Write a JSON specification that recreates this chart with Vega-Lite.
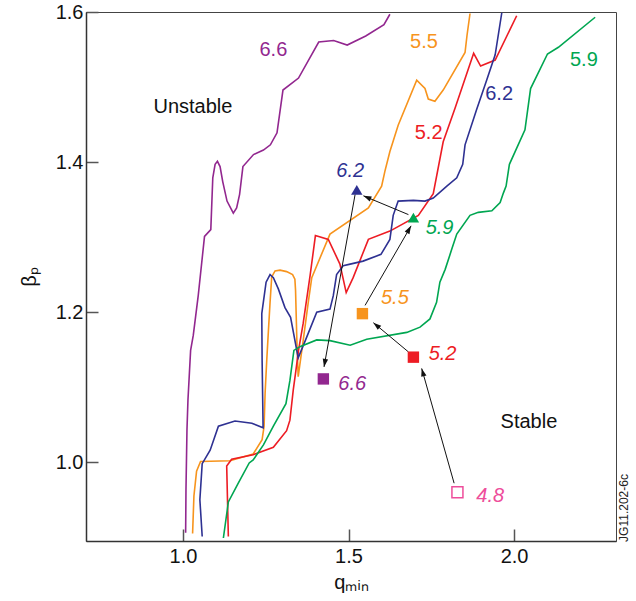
{
  "$schema": "https://vega.github.io/schema/vega-lite/v6.json",
  "width": 530,
  "height": 529,
  "autosize": {"type": "none"},
  "padding": {"left": 86, "top": 12, "right": 20, "bottom": 60},
  "background": "white",
  "config": {
    "font": "Liberation Sans",
    "view": {"stroke": "#444", "strokeWidth": 1},
    "axis": {
      "labelFont": "Liberation Sans",
      "labelFontSize": 20,
      "labelColor": "#111",
      "titleFont": "Liberation Sans",
      "titleFontSize": 20,
      "titleFontWeight": "normal",
      "titleColor": "#111",
      "domainColor": "#333",
      "domainWidth": 1.5,
      "tickColor": "#555",
      "tickWidth": 1.5,
      "tickSize": -12,
      "grid": false
    }
  },
  "datasets": {
    "curves": [
      {"s":"6.6","i":1,"q":1.008,"b":0.906},{"s":"6.6","i":2,"q":1.009,"b":0.963},{"s":"6.6","i":3,"q":1.012,"b":1.043},{"s":"6.6","i":4,"q":1.015,"b":1.083},{"s":"6.6","i":5,"q":1.023,"b":1.149},{"s":"6.6","i":6,"q":1.031,"b":1.169},{"s":"6.6","i":7,"q":1.046,"b":1.222},{"s":"6.6","i":8,"q":1.065,"b":1.301},{"s":"6.6","i":9,"q":1.084,"b":1.310},{"s":"6.6","i":10,"q":1.090,"b":1.379},{"s":"6.6","i":11,"q":1.097,"b":1.397},{"s":"6.6","i":12,"q":1.104,"b":1.401},{"s":"6.6","i":13,"q":1.112,"b":1.394},{"s":"6.6","i":14,"q":1.120,"b":1.374},{"s":"6.6","i":15,"q":1.133,"b":1.348},{"s":"6.6","i":16,"q":1.152,"b":1.332},{"s":"6.6","i":17,"q":1.162,"b":1.339},{"s":"6.6","i":18,"q":1.171,"b":1.357},{"s":"6.6","i":19,"q":1.181,"b":1.394},{"s":"6.6","i":20,"q":1.213,"b":1.410},{"s":"6.6","i":21,"q":1.243,"b":1.416},{"s":"6.6","i":22,"q":1.264,"b":1.423},{"s":"6.6","i":23,"q":1.284,"b":1.439},{"s":"6.6","i":24,"q":1.302,"b":1.496},{"s":"6.6","i":25,"q":1.349,"b":1.512},{"s":"6.6","i":26,"q":1.410,"b":1.560},{"s":"6.6","i":27,"q":1.455,"b":1.562},{"s":"6.6","i":28,"q":1.496,"b":1.556},{"s":"6.6","i":29,"q":1.552,"b":1.568},{"s":"6.6","i":30,"q":1.607,"b":1.583},{"s":"6.6","i":31,"q":1.625,"b":1.597},

      {"s":"5.5","i":1,"q":1.029,"b":0.905},{"s":"5.5","i":2,"q":1.033,"b":0.955},{"s":"5.5","i":3,"q":1.041,"b":0.988},{"s":"5.5","i":4,"q":1.053,"b":1.001},{"s":"5.5","i":5,"q":1.142,"b":1.002},{"s":"5.5","i":6,"q":1.212,"b":1.011},{"s":"5.5","i":7,"q":1.239,"b":1.030},{"s":"5.5","i":8,"q":1.245,"b":1.048},{"s":"5.5","i":9,"q":1.248,"b":1.092},{"s":"5.5","i":10,"q":1.253,"b":1.136},{"s":"5.5","i":11,"q":1.258,"b":1.175},{"s":"5.5","i":12,"q":1.263,"b":1.213},{"s":"5.5","i":13,"q":1.268,"b":1.247},{"s":"5.5","i":14,"q":1.278,"b":1.255},{"s":"5.5","i":15,"q":1.293,"b":1.256},{"s":"5.5","i":16,"q":1.313,"b":1.254},{"s":"5.5","i":17,"q":1.331,"b":1.250},{"s":"5.5","i":18,"q":1.338,"b":1.244},{"s":"5.5","i":19,"q":1.340,"b":1.229},{"s":"5.5","i":20,"q":1.344,"b":1.162},{"s":"5.5","i":21,"q":1.348,"b":1.114},{"s":"5.5","i":22,"q":1.363,"b":1.162},{"s":"5.5","i":23,"q":1.379,"b":1.215},{"s":"5.5","i":24,"q":1.389,"b":1.246},{"s":"5.5","i":25,"q":1.444,"b":1.304},{"s":"5.5","i":26,"q":1.560,"b":1.339},{"s":"5.5","i":27,"q":1.600,"b":1.368},{"s":"5.5","i":28,"q":1.610,"b":1.388},{"s":"5.5","i":29,"q":1.625,"b":1.414},{"s":"5.5","i":30,"q":1.650,"b":1.449},{"s":"5.5","i":31,"q":1.706,"b":1.509},{"s":"5.5","i":32,"q":1.731,"b":1.498},{"s":"5.5","i":33,"q":1.741,"b":1.484},{"s":"5.5","i":34,"q":1.761,"b":1.481},{"s":"5.5","i":35,"q":1.776,"b":1.490},{"s":"5.5","i":36,"q":1.786,"b":1.496},{"s":"5.5","i":37,"q":1.852,"b":1.546},{"s":"5.5","i":38,"q":1.858,"b":1.569},{"s":"5.5","i":39,"q":1.867,"b":1.598},

      {"s":"5.2","i":1,"q":1.137,"b":0.901},{"s":"5.2","i":2,"q":1.132,"b":0.995},{"s":"5.2","i":3,"q":1.147,"b":1.004},{"s":"5.2","i":4,"q":1.212,"b":1.010},{"s":"5.2","i":5,"q":1.273,"b":1.020},{"s":"5.2","i":6,"q":1.313,"b":1.042},{"s":"5.2","i":7,"q":1.323,"b":1.056},{"s":"5.2","i":8,"q":1.333,"b":1.096},{"s":"5.2","i":9,"q":1.341,"b":1.122},{"s":"5.2","i":10,"q":1.349,"b":1.149},{"s":"5.2","i":11,"q":1.363,"b":1.185},{"s":"5.2","i":12,"q":1.384,"b":1.249},{"s":"5.2","i":13,"q":1.400,"b":1.302},{"s":"5.2","i":14,"q":1.439,"b":1.297},{"s":"5.2","i":15,"q":1.474,"b":1.264},{"s":"5.2","i":16,"q":1.493,"b":1.226},{"s":"5.2","i":17,"q":1.514,"b":1.246},{"s":"5.2","i":18,"q":1.560,"b":1.297},{"s":"5.2","i":19,"q":1.625,"b":1.308},{"s":"5.2","i":20,"q":1.711,"b":1.329},{"s":"5.2","i":21,"q":1.756,"b":1.358},{"s":"5.2","i":22,"q":1.786,"b":1.427},{"s":"5.2","i":23,"q":1.822,"b":1.472},{"s":"5.2","i":24,"q":1.878,"b":1.545},{"s":"5.2","i":25,"q":1.899,"b":1.528},{"s":"5.2","i":26,"q":1.943,"b":1.536},{"s":"5.2","i":27,"q":2.008,"b":1.595},

      {"s":"6.2","i":1,"q":1.058,"b":0.901},{"s":"6.2","i":2,"q":1.051,"b":0.950},{"s":"6.2","i":3,"q":1.058,"b":0.998},{"s":"6.2","i":4,"q":1.082,"b":1.016},{"s":"6.2","i":5,"q":1.107,"b":1.048},{"s":"6.2","i":6,"q":1.157,"b":1.055},{"s":"6.2","i":7,"q":1.208,"b":1.052},{"s":"6.2","i":8,"q":1.242,"b":1.046},{"s":"6.2","i":9,"q":1.239,"b":1.136},{"s":"6.2","i":10,"q":1.238,"b":1.198},{"s":"6.2","i":11,"q":1.251,"b":1.240},{"s":"6.2","i":12,"q":1.263,"b":1.250},{"s":"6.2","i":13,"q":1.273,"b":1.246},{"s":"6.2","i":14,"q":1.288,"b":1.231},{"s":"6.2","i":15,"q":1.308,"b":1.206},{"s":"6.2","i":16,"q":1.325,"b":1.193},{"s":"6.2","i":17,"q":1.348,"b":1.139},{"s":"6.2","i":18,"q":1.374,"b":1.167},{"s":"6.2","i":19,"q":1.404,"b":1.200},{"s":"6.2","i":20,"q":1.444,"b":1.204},{"s":"6.2","i":21,"q":1.454,"b":1.222},{"s":"6.2","i":22,"q":1.464,"b":1.250},{"s":"6.2","i":23,"q":1.484,"b":1.262},{"s":"6.2","i":24,"q":1.505,"b":1.264},{"s":"6.2","i":25,"q":1.544,"b":1.268},{"s":"6.2","i":26,"q":1.598,"b":1.277},{"s":"6.2","i":27,"q":1.625,"b":1.297},{"s":"6.2","i":28,"q":1.635,"b":1.329},{"s":"6.2","i":29,"q":1.650,"b":1.348},{"s":"6.2","i":30,"q":1.696,"b":1.349},{"s":"6.2","i":31,"q":1.731,"b":1.348},{"s":"6.2","i":32,"q":1.756,"b":1.352},{"s":"6.2","i":33,"q":1.797,"b":1.368},{"s":"6.2","i":34,"q":1.827,"b":1.379},{"s":"6.2","i":35,"q":1.845,"b":1.397},{"s":"6.2","i":36,"q":1.852,"b":1.423},{"s":"6.2","i":37,"q":1.887,"b":1.470},{"s":"6.2","i":38,"q":1.918,"b":1.510},{"s":"6.2","i":39,"q":1.943,"b":1.543},{"s":"6.2","i":40,"q":1.963,"b":1.599},

      {"s":"5.9","i":1,"q":1.122,"b":0.899},{"s":"5.9","i":2,"q":1.137,"b":0.947},{"s":"5.9","i":3,"q":1.167,"b":0.972},{"s":"5.9","i":4,"q":1.200,"b":0.999},{"s":"5.9","i":5,"q":1.212,"b":1.003},{"s":"5.9","i":6,"q":1.243,"b":1.023},{"s":"5.9","i":7,"q":1.273,"b":1.048},{"s":"5.9","i":8,"q":1.311,"b":1.078},{"s":"5.9","i":9,"q":1.323,"b":1.109},{"s":"5.9","i":10,"q":1.335,"b":1.149},{"s":"5.9","i":11,"q":1.353,"b":1.154},{"s":"5.9","i":12,"q":1.404,"b":1.163},{"s":"5.9","i":13,"q":1.444,"b":1.162},{"s":"5.9","i":14,"q":1.505,"b":1.156},{"s":"5.9","i":15,"q":1.555,"b":1.164},{"s":"5.9","i":16,"q":1.676,"b":1.173},{"s":"5.9","i":17,"q":1.716,"b":1.180},{"s":"5.9","i":18,"q":1.746,"b":1.191},{"s":"5.9","i":19,"q":1.766,"b":1.213},{"s":"5.9","i":20,"q":1.776,"b":1.240},{"s":"5.9","i":21,"q":1.792,"b":1.257},{"s":"5.9","i":22,"q":1.812,"b":1.284},{"s":"5.9","i":23,"q":1.827,"b":1.304},{"s":"5.9","i":24,"q":1.867,"b":1.329},{"s":"5.9","i":25,"q":1.892,"b":1.333},{"s":"5.9","i":26,"q":1.933,"b":1.335},{"s":"5.9","i":27,"q":1.958,"b":1.346},{"s":"5.9","i":28,"q":1.968,"b":1.359},{"s":"5.9","i":29,"q":1.976,"b":1.368},{"s":"5.9","i":30,"q":1.986,"b":1.397},{"s":"5.9","i":31,"q":2.033,"b":1.443},{"s":"5.9","i":32,"q":2.050,"b":1.498},{"s":"5.9","i":33,"q":2.101,"b":1.544},{"s":"5.9","i":34,"q":2.134,"b":1.553},{"s":"5.9","i":35,"q":2.245,"b":1.593}
    ],
    "curveLabels": [
      {"s":"6.6","q":1.273,"b":1.550},
      {"s":"5.5","q":1.728,"b":1.560},
      {"s":"5.2","q":1.742,"b":1.439},
      {"s":"6.2","q":1.955,"b":1.491},
      {"s":"5.9","q":2.211,"b":1.536}
    ],
    "shots": [
      {"s":"6.2","q":1.525,"b":1.363},
      {"s":"5.9","q":1.696,"b":1.326},
      {"s":"5.5","q":1.542,"b":1.198},
      {"s":"5.2","q":1.696,"b":1.140},
      {"s":"6.6","q":1.424,"b":1.111}
    ],
    "start": [
      {"s":"4.8","q":1.829,"b":0.960}
    ],
    "shotLabels": [
      {"s":"6.2","q":1.505,"b":1.388},
      {"s":"5.9","q":1.775,"b":1.312},
      {"s":"5.5","q":1.640,"b":1.219},
      {"s":"5.2","q":1.784,"b":1.144},
      {"s":"6.6","q":1.511,"b":1.104},
      {"s":"4.8","q":1.928,"b":0.955}
    ],
    "steps": [
      {"q1":1.819,"b1":0.972,"q2":1.721,"b2":1.125},
      {"q1":1.681,"b1":1.147,"q2":1.575,"b2":1.186},
      {"q1":1.550,"b1":1.209,"q2":1.689,"b2":1.315},
      {"q1":1.681,"b1":1.330,"q2":1.545,"b2":1.355},
      {"q1":1.520,"b1":1.357,"q2":1.426,"b2":1.127}
    ],
    "regions": [
      {"t":"Unstable","q":1.030,"b":1.474},
      {"t":"Stable","q":2.045,"b":1.053}
    ],
    "ref": [
      {"t":"JG11.202-6c","q":2.331,"b":0.939}
    ]
  },
  "encoding": {
    "x": {
      "type": "quantitative",
      "scale": {"domain": [0.707, 2.308], "nice": false, "zero": false},
      "axis": {"values": [1.0, 1.5, 2.0], "format": ".1f", "title": "qₘᵢₙ", "labelPadding": 17, "titlePadding": 6}
    },
    "y": {
      "type": "quantitative",
      "scale": {"domain": [0.895, 1.6], "nice": false, "zero": false},
      "axis": {"values": [1.0, 1.2, 1.4, 1.6], "format": ".1f", "title": "βₚ", "labelPadding": 15, "titlePadding": 16}
    }
  },
  "layer": [
    {
      "data": {"name": "curves"},
      "mark": {"type": "line", "strokeWidth": 1.6},
      "encoding": {
        "x": {"field": "q", "type": "quantitative"},
        "y": {"field": "b", "type": "quantitative"},
        "order": {"field": "i", "type": "quantitative"},
        "detail": {"field": "s", "type": "nominal"},
        "color": {
          "field": "s", "type": "nominal", "legend": null,
          "scale": {
            "domain": ["6.6", "5.5", "5.2", "6.2", "5.9", "4.8"],
            "range": ["#92278f", "#f7941d", "#ed1c24", "#2e3192", "#00a651", "#ee4d9b"]
          }
        }
      }
    },
    {
      "data": {"name": "curveLabels"},
      "mark": {"type": "text", "fontSize": 20, "align": "center", "baseline": "middle"},
      "encoding": {
        "x": {"field": "q", "type": "quantitative"},
        "y": {"field": "b", "type": "quantitative"},
        "text": {"field": "s"},
        "color": {"field": "s", "type": "nominal", "legend": null}
      }
    },
    {
      "data": {"name": "steps"},
      "mark": {"type": "rule", "color": "#111", "strokeWidth": 1},
      "encoding": {
        "x": {"field": "q1", "type": "quantitative"},
        "y": {"field": "b1", "type": "quantitative"},
        "x2": {"field": "q2"},
        "y2": {"field": "b2"}
      }
    },
    {
      "data": {"name": "steps"},
      "transform": [
        {"calculate": "atan2((datum.q2 - datum.q1) * 331, (datum.b2 - datum.b1) * 750) * 180 / PI", "as": "ang"}
      ],
      "mark": {"type": "point", "shape": "M0,0L0.34,1L-0.34,1Z", "filled": true, "color": "#111", "size": 256, "strokeWidth": 0, "opacity": 1},
      "encoding": {
        "x": {"field": "q2", "type": "quantitative"},
        "y": {"field": "b2", "type": "quantitative"},
        "angle": {"field": "ang", "type": "quantitative", "scale": null}
      }
    },
    {
      "data": {"name": "shots"},
      "mark": {"type": "point", "filled": true, "size": 130, "opacity": 1, "strokeWidth": 0},
      "encoding": {
        "x": {"field": "q", "type": "quantitative"},
        "y": {"field": "b", "type": "quantitative"},
        "color": {"field": "s", "type": "nominal", "legend": null},
        "shape": {
          "field": "s", "type": "nominal", "legend": null,
          "scale": {"domain": ["6.2", "5.9", "5.5", "5.2", "6.6"], "range": ["triangle-up", "triangle-up", "square", "square", "square"]}
        }
      }
    },
    {
      "data": {"name": "start"},
      "mark": {"type": "point", "shape": "square", "filled": false, "size": 121, "strokeWidth": 1.5, "opacity": 1},
      "encoding": {
        "x": {"field": "q", "type": "quantitative"},
        "y": {"field": "b", "type": "quantitative"},
        "color": {"field": "s", "type": "nominal", "legend": null}
      }
    },
    {
      "data": {"name": "shotLabels"},
      "mark": {"type": "text", "fontSize": 20, "fontStyle": "italic", "align": "center", "baseline": "middle"},
      "encoding": {
        "x": {"field": "q", "type": "quantitative"},
        "y": {"field": "b", "type": "quantitative"},
        "text": {"field": "s"},
        "color": {"field": "s", "type": "nominal", "legend": null}
      }
    },
    {
      "data": {"name": "regions"},
      "mark": {"type": "text", "fontSize": 20, "align": "center", "baseline": "middle", "color": "#111"},
      "encoding": {
        "x": {"field": "q", "type": "quantitative"},
        "y": {"field": "b", "type": "quantitative"},
        "text": {"field": "t"}
      }
    },
    {
      "data": {"name": "ref"},
      "mark": {"type": "text", "fontSize": 12, "angle": 270, "align": "center", "baseline": "middle", "color": "#222"},
      "encoding": {
        "x": {"field": "q", "type": "quantitative"},
        "y": {"field": "b", "type": "quantitative"},
        "text": {"field": "t"}
      }
    }
  ]
}
